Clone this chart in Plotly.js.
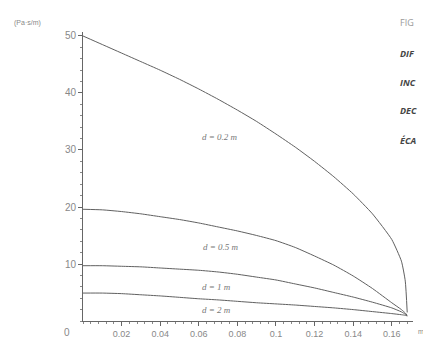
<!DOCTYPE html>
<html>
<head>
<meta charset="utf-8">
<script src="https://cdn.plot.ly/plotly-3.0.1.min.js"></script>
<style>html,body{margin:0;padding:0;background:#fff;}#chart{width:423px;height:340px;}</style>
</head>
<body>
<div id="chart"></div>
<script>
// Data
var xs = [0, 0.01, 0.02, 0.03, 0.04, 0.05, 0.06, 0.07, 0.08, 0.09, 0.10, 0.11, 0.12, 0.13, 0.14, 0.15, 0.16, 0.165, 0.167, 0.168];
var d02 = [50, 48.5, 47.0, 45.5, 44.0, 42.4, 40.7, 38.9, 37.0, 35.0, 32.8, 30.5, 28.0, 25.3, 22.3, 18.8, 14.3, 10.5, 7.0, 1.5];
var d05 = [19.6, 19.5, 19.2, 18.8, 18.3, 17.8, 17.2, 16.5, 15.8, 15.0, 14.1, 12.9, 11.4, 9.8, 7.9, 5.7, 3.2, 2.0, 1.4, 1.0];
var d1  = [9.7, 9.7, 9.6, 9.5, 9.3, 9.1, 8.9, 8.6, 8.2, 7.7, 7.2, 6.5, 5.8, 5.0, 4.2, 3.3, 2.3, 1.6, 1.2, 0.9];
var d2  = [4.9, 4.9, 4.8, 4.6, 4.4, 4.15, 3.9, 3.7, 3.45, 3.2, 3.0, 2.8, 2.55, 2.3, 2.0, 1.65, 1.3, 1.1, 1.0, 0.9];
var seriesNames = ["d = 0.2 m", "d = 0.5 m", "d = 1 m", "d = 2 m"];
var labelX = [0.071, 0.0715, 0.0694, 0.0694];
var labelY = [32.3, 13, 6, 1.9];
var xTickVals = [0.02, 0.04, 0.06, 0.08, 0.1, 0.12, 0.14, 0.16];
var xTickText = ["0.02", "0.04", "0.06", "0.08", "0.1", "0.12", "0.14", "0.16"];
var yTickVals = [10, 20, 30, 40, 50];
var sideTexts = ["FIG", "DIF", "INC", "DEC", "ÉCA"];

var allY = [d02, d05, d1, d2];
var traces = allY.map(function (ys, i) {
  return {x: xs, y: ys, type: 'scatter', mode: 'lines', name: seriesNames[i], hoverinfo: 'skip',
    line: {color: '#606060', width: 1, shape: 'spline', smoothing: 0.5}};
});

var annotations = seriesNames.map(function (t, i) {
  return {x: labelX[i], y: labelY[i], xref: 'x', yref: 'y', text: '<i>' + t + '</i>', showarrow: false,
    font: {family: 'Liberation Serif, serif', size: 9, color: '#777'}};
});
annotations.push({xref: 'paper', yref: 'paper', x: -0.05, y: -0.04, xanchor: 'center', yanchor: 'middle', text: '0', showarrow: false, font: {family: 'Liberation Sans, sans-serif', size: 10, color: '#888'}});
annotations.push({xref: 'paper', yref: 'paper', x: 1.025, y: -0.035, xanchor: 'center', yanchor: 'middle', text: 'm', showarrow: false, font: {family: 'Liberation Sans, sans-serif', size: 7, color: '#888'}});
annotations.push({xref: 'paper', yref: 'paper', x: -0.215, y: 1.03, xanchor: 'left', yanchor: 'middle', text: '(Pa·s/m)', showarrow: false, font: {family: 'Liberation Sans, sans-serif', size: 7, color: '#888'}});
var sideY = [23, 53, 82, 111, 140];
sideTexts.forEach(function (t, i) {
  annotations.push({xref: 'paper', yref: 'paper', x: (398 - 83) / 330, y: 1 - (sideY[i] - 32) / 289, xanchor: 'left', yanchor: 'middle', text: i === 0 ? t : '<b><i>' + t + '</i></b>', showarrow: false,
    font: {family: 'Open Sans, sans-serif', size: 9, color: i === 0 ? '#999' : '#444'}});
});

var layout = {
  width: 423, height: 340,
  margin: {l: 83, r: 10, t: 32, b: 19},
  paper_bgcolor: '#fff', plot_bgcolor: '#fff',
  showlegend: false,
  xaxis: {range: [0, 0.171], showgrid: false, zeroline: false, showline: true, linecolor: '#666', linewidth: 1,
    tickmode: 'array', tickvals: xTickVals, ticktext: xTickText, ticks: 'outside', ticklen: 4, tickcolor: '#666',
    minor: {dtick: 0.004, tick0: 0, ticks: 'outside', ticklen: 2, tickcolor: '#888'},
    tickfont: {family: 'Liberation Sans, sans-serif', size: 9, color: '#888'}},
  yaxis: {range: [0, 50.7], showgrid: false, zeroline: false, showline: true, linecolor: '#666', linewidth: 1,
    tickmode: 'array', tickvals: yTickVals, ticks: 'outside', ticklen: 4, tickcolor: '#666',
    minor: {dtick: 2, tick0: 0, ticks: 'outside', ticklen: 2, tickcolor: '#888'},
    tickfont: {family: 'Liberation Sans, sans-serif', size: 10, color: '#888'}},
  annotations: annotations
};

Plotly.newPlot('chart', traces, layout, {displayModeBar: false, staticPlot: true});
</script>
</body>
</html>
